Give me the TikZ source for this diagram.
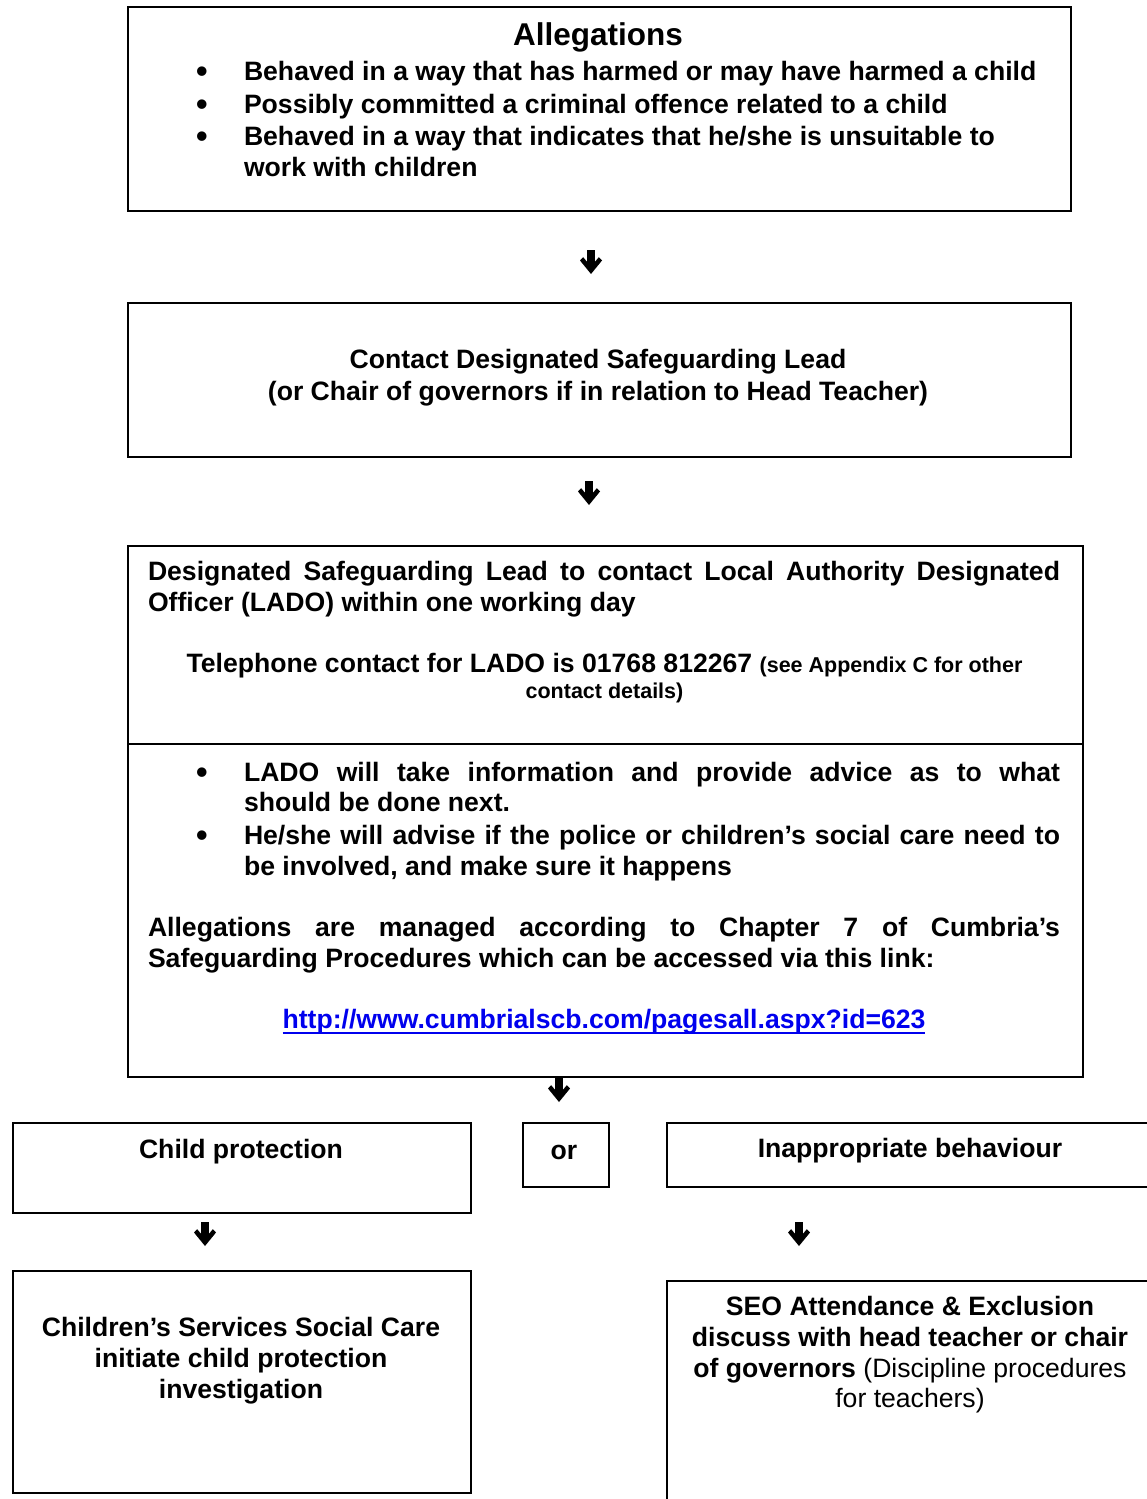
\documentclass[tikz,border=0pt]{standalone}
\usepackage{fontspec}
\setmainfont{Liberation Sans}
\newcommand\fbody{\fontsize{26.6}{32}\selectfont\bfseries}
\newcommand\ftitle{\fontsize{31.5}{36}\selectfont\bfseries}
\newcommand\fsmall{\fontsize{21.5}{26}\selectfont\bfseries}
\newcommand\fplain{\fontsize{26.6}{32}\selectfont\mdseries}
\newcommand\fbullet{\fontsize{33}{36}\selectfont\bfseries}
\definecolor{linkblue}{RGB}{0,0,238}
\begin{document}
\begin{tikzpicture}[x=1pt,y=-1pt,
  box/.style={draw=black,line width=1.6pt,fill=none,inner sep=0pt,anchor=north west},
  ln/.style={inner sep=0pt,outer sep=0pt,anchor=base west,font=\fbody},
  lc/.style={inner sep=0pt,outer sep=0pt,anchor=base,font=\fbody},
  bul/.style={inner sep=0pt,outer sep=0pt,anchor=base,font=\fbullet,yshift=-2pt},
  downglyph/.pic={\fill[black] (-3.8,-12) -- (3.8,-12) -- (3.8,0) -- (7.8,-4.8) -- (11,-1.5) -- (0,12) -- (-11,-1.5) -- (-7.8,-4.8) -- (-3.8,0) -- cycle;}]
\useasboundingbox[fill=white] (0,0) rectangle (1147,1499);

% ---- Box 1: Allegations
\node[box,minimum width=943pt,minimum height=204pt] (alleg) at (127,6) {};
\node[lc,font=\ftitle] (t1) at (598,45) {Allegations};
\node[bul] (b1) at (202,80) {•};
\node[ln] (a1) at (244,80) {Behaved in a way that has harmed or may have harmed a child};
\node[bul] (b2) at (202,113) {•};
\node[ln] (a2) at (244,113) {Possibly committed a criminal offence related to a child};
\node[bul] (b3) at (202,145) {•};
\node[ln] (a3) at (244,145) {Behaved in a way that indicates that he/she is unsuitable to};
\node[ln] (a4) at (244,176) {work with children};

\pic at (591,262) {downglyph};

% ---- Box 2: Contact DSL
\node[box,minimum width=943pt,minimum height=154pt] (contact) at (127,302) {};
\node[lc] (c1) at (598,368) {Contact Designated Safeguarding Lead};
\node[lc] (c2) at (598,400) {(or Chair of governors if in relation to Head Teacher)};

\pic at (589,493) {downglyph};

% ---- Box 3: LADO
\node[box,minimum width=955pt,minimum height=531pt] (lado) at (127,545) {};
\coordinate (dl) at (127,744);
\coordinate (dr) at (1082,744);
\draw[line width=1.6pt] (dl) -- (dr);
\node[ln] (d1) at (148,580) {\makebox[912pt][s]{Designated Safeguarding Lead to contact Local Authority Designated}};
\node[ln] (d2) at (148,611) {Officer (LADO) within one working day};
\node[lc] (d3) at (604.5,672) {Telephone contact for LADO is 01768 812267 {\fsmall(see Appendix C for other}};
\node[lc,font=\fsmall] (d4) at (604.5,698) {contact details)};
\node[bul] (b4) at (202,781) {•};
\node[ln] (e1) at (244,781) {\makebox[816pt][s]{LADO will take information and provide advice as to what}};
\node[ln] (e2) at (244,811) {should be done next.};
\node[bul] (b5) at (202,844) {•};
\node[ln] (e3) at (244,844) {\makebox[816pt][s]{He/she will advise if the police or children’s social care need to}};
\node[ln] (e4) at (244,875) {be involved, and make sure it happens};
\node[ln] (f1) at (148,936) {\makebox[912pt][s]{Allegations are managed according to Chapter 7 of Cumbria’s}};
\node[ln] (f2) at (148,967) {Safeguarding Procedures which can be accessed via this link:};
\node[lc,text=linkblue] (link) at (604,1028) {http://www.cumbrialscb.com/pagesall.aspx?id=623};
\draw[linkblue,line width=1.6pt] (link.base west) ++(0,5) coordinate (u1) -- (link.base east |- u1);

\pic at (559,1090) {downglyph};

% ---- Row: Child protection / or / Inappropriate behaviour
\node[box,minimum width=458pt,minimum height=90pt] (cp) at (12,1122) {};
\node[lc] (cpt) at (241,1158) {Child protection};
\node[box,minimum width=86pt,minimum height=64pt] (orbox) at (522,1122) {};
\node[lc] (ort) at (564,1159) {or};
\node[box,minimum width=490pt,minimum height=64pt] (inap) at (666,1122) {};
\node[lc] (inapt) at (910,1157) {Inappropriate behaviour};

\pic at (205,1234) {downglyph};
\pic at (799,1234) {downglyph};

% ---- Bottom boxes
\node[box,minimum width=458pt,minimum height=222pt] (css) at (12,1270) {};
\node[lc] (s1) at (241,1336) {Children’s Services Social Care};
\node[lc] (s2) at (241,1367) {initiate child protection};
\node[lc] (s3) at (241,1398) {investigation};

\node[box,minimum width=490pt,minimum height=240pt] (seo) at (666,1280) {};
\node[lc] (o1) at (910,1315) {SEO Attendance \& Exclusion};
\node[lc] (o2) at (910,1346) {discuss with head teacher or chair};
\node[lc] (o3) at (910,1377) {of governors {\fplain(Discipline procedures}};
\node[lc,font=\fplain] (o4) at (910,1407) {for teachers)};
\end{tikzpicture}
\end{document}
